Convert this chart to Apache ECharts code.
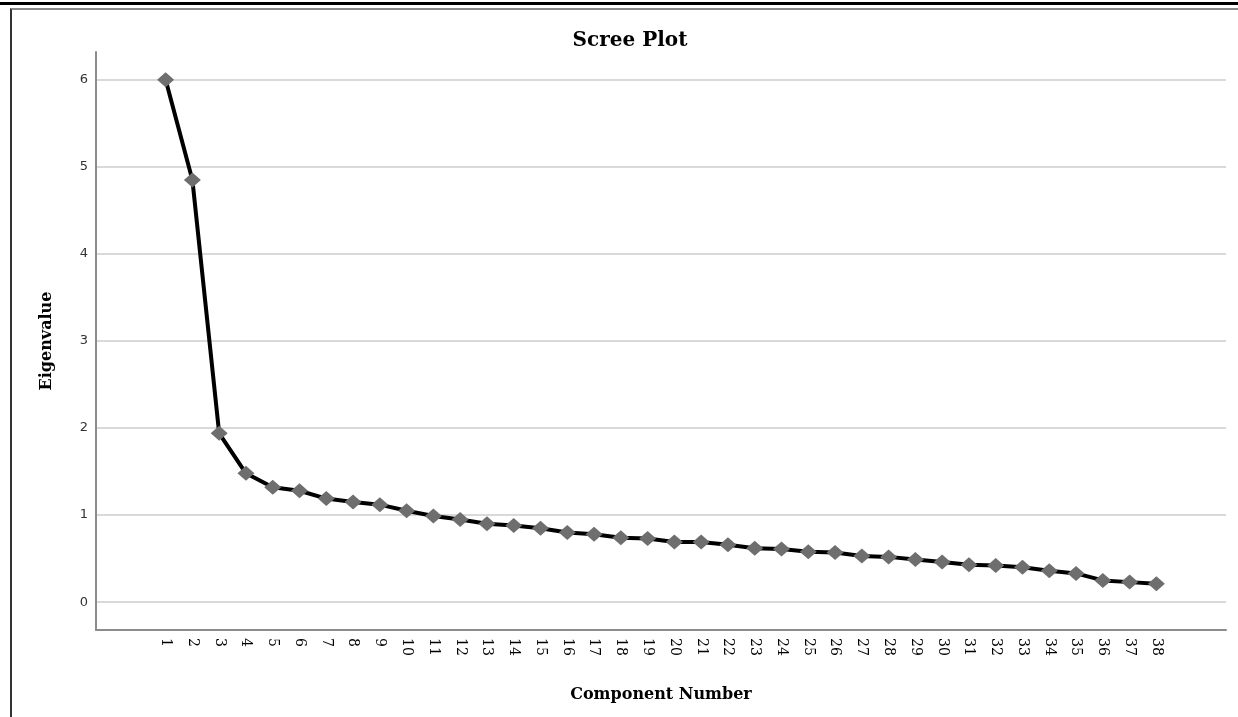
<!DOCTYPE html>
<html>
<head>
<meta charset="utf-8">
<script src="https://cdn.jsdelivr.net/npm/echarts@6/dist/echarts.min.js"></script>
<style>
  html, body { margin: 0; padding: 0; background: #fff; }
  .frame-top { position: absolute; left: 0; top: 2px; width: 1238px; height: 3px; background: #000; }
  .frame-box { position: absolute; left: 10px; top: 8px; width: 1228px; height: 709px;
    border-top: 2px solid #8a8a8a; border-left: 2px solid #333; box-sizing: border-box; }
  #chart { position: absolute; left: 0; top: 0; width: 1238px; height: 717px; }
</style>
</head>
<body>
<div class="frame-top"></div>
<div class="frame-box"></div>
<div id="chart"></div>
<script>
// component numbers and eigenvalues
const components = [1, 2, 3, 4, 5, 6, 7, 8, 9, 10, 11, 12, 13, 14, 15, 16, 17, 18, 19,
  20, 21, 22, 23, 24, 25, 26, 27, 28, 29, 30, 31, 32, 33, 34, 35, 36, 37, 38]
const eigenvalues = [6.0, 4.85, 1.94, 1.48, 1.32, 1.28, 1.19, 1.15, 1.12, 1.05,
  0.99, 0.95, 0.90, 0.88, 0.85, 0.80, 0.78, 0.74, 0.73, 0.69,
  0.69, 0.66, 0.62, 0.61, 0.58, 0.57, 0.53, 0.52, 0.49, 0.46,
  0.43, 0.42, 0.40, 0.36, 0.33, 0.25, 0.23, 0.21]
const yTicks = [0, 1, 2, 3, 4, 5, 6]

const chart = echarts.init(document.getElementById('chart'))
const serif = 'DejaVu Serif'

chart.setOption({
  animation: false,
  title: {
    text: 'Scree Plot',
    left: 625,
    top: 26,
    textAlign: 'center',
    textStyle: { fontFamily: serif, fontWeight: 'bold', fontSize: 20, color: '#000' }
  },
  grid: { left: 96, right: 12, top: 52, bottom: 87 },
  xAxis: {
    type: 'value',
    min: -1.6,
    max: 40.6,
    name: 'Component Number',
    nameLocation: 'middle',
    nameGap: 57,
    nameTextStyle: { fontFamily: serif, fontWeight: 'bold', fontSize: 16, color: '#000' },
    axisLine: { onZero: false, lineStyle: { color: '#8c8c8c', width: 2 } },
    axisTick: { show: false, customValues: components },
    axisLabel: {
      customValues: components,
      rotate: -90,
      margin: 8,
      fontFamily: serif,
      fontSize: 14,
      color: '#000'
    },
    splitLine: { show: false }
  },
  yAxis: {
    type: 'value',
    min: -0.32,
    max: 6.32,
    name: 'Eigenvalue',
    nameLocation: 'middle',
    nameRotate: 90,
    nameGap: 41,
    nameTextStyle: { fontFamily: serif, fontWeight: 'bold', fontSize: 16, color: '#000' },
    axisLine: { show: true, onZero: false, lineStyle: { color: '#8c8c8c', width: 2 } },
    axisTick: { show: false, customValues: yTicks },
    axisLabel: {
      customValues: yTicks,
      margin: 8,
      fontFamily: 'DejaVu Sans',
      fontSize: 13,
      color: '#333'
    },
    splitLine: { show: true, lineStyle: { color: '#cccccc', width: 1.5 } }
  },
  series: [
    {
      type: 'line',
      data: components.map((c, i) => [c, eigenvalues[i]]),
      symbol: 'diamond',
      symbolSize: [17, 15],
      itemStyle: { color: '#6e6e6e' },
      lineStyle: { color: '#000', width: 4 }
    }
  ]
})
</script>
</body>
</html>
